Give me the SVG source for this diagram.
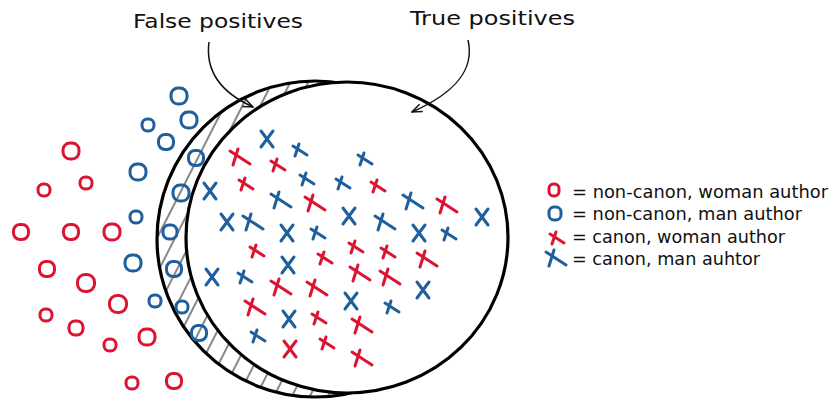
<svg xmlns="http://www.w3.org/2000/svg" xmlns:xlink="http://www.w3.org/1999/xlink" width="832" height="403" viewBox="0 0 832 403">
<style>
  .txt { font-family: "DejaVu Sans", "Open Sans", sans-serif; fill: #111; }
  .title { font-size: 20px; }
  .leg { font-size: 17px; }
  .set { stroke: #000; stroke-width: 3.2; }
  .red { stroke: #dc1432; fill: none; stroke-width: 3; stroke-linecap: round; stroke-linejoin: round; }
  .blue { stroke: #1f5f9b; fill: none; stroke-width: 3; stroke-linecap: round; stroke-linejoin: round; }
  .arrow { fill: none; stroke: #111; stroke-width: 1.5; marker-end: url(#head); }
</style>
<defs>
  <pattern id="hatch" patternUnits="userSpaceOnUse" width="16" height="16" patternTransform="rotate(27)">
    <rect width="16" height="16" fill="#fff"/>
    <line x1="8" y1="-1" x2="8" y2="17" stroke="#7a7a7a" stroke-width="1.8"/>
  </pattern>
  <marker id="head" viewBox="0 0 12 10" refX="11" refY="5" markerWidth="12" markerHeight="10" markerUnits="userSpaceOnUse" orient="auto">
    <path d="M1,1 L11,5 L1,9" fill="none" stroke="#111" stroke-width="1.5" stroke-linejoin="miter"/>
  </marker>
  <path id="px" d="M-6,-8 L6,8 M6,-8 L-6,8"/>
  <path id="tx" d="M-10,-6 L10,7 M-2,-8 L-7,8"/>
  <path id="txs" d="M-7,-4 L7,5 M-1,-6 L-5,6"/>
</defs>
<rect width="832" height="403" fill="#fff"/>

<g id="set-predicted">
  <circle cx="315" cy="239" r="158" fill="url(#hatch)" class="set"/>
</g>
<g id="set-canon">
  <ellipse cx="347" cy="237.5" rx="161" ry="155.5" fill="#fff" class="set" stroke-width="3.6"/>
</g>

<g id="noncanon-woman">
  <rect class="red" x="63" y="143" width="16" height="16" rx="7"/>
  <rect class="red" x="38" y="184" width="12" height="12" rx="5.5"/>
  <rect class="red" x="80" y="177" width="12" height="12" rx="5.5"/>
  <rect class="red" x="13.5" y="224.5" width="15" height="15" rx="6.5"/>
  <rect class="red" x="63.5" y="224.5" width="15" height="15" rx="6.5"/>
  <rect class="red" x="104" y="224" width="16" height="16" rx="7"/>
  <rect class="red" x="39.5" y="261.5" width="15" height="15" rx="6.5"/>
  <rect class="red" x="77.5" y="274.5" width="17" height="17" rx="7.5"/>
  <rect class="red" x="109.5" y="295.5" width="17" height="17" rx="7.5"/>
  <rect class="red" x="40" y="309" width="12" height="12" rx="5.5"/>
  <rect class="red" x="69" y="321" width="14" height="14" rx="6"/>
  <rect class="red" x="104" y="339" width="12" height="12" rx="5.5"/>
  <rect class="red" x="139" y="329" width="16" height="16" rx="7"/>
  <rect class="red" x="126" y="377" width="12" height="12" rx="5.5"/>
  <rect class="red" x="166.5" y="373.5" width="15" height="15" rx="6.5"/>
</g>

<g id="noncanon-man">
  <rect class="blue" x="171" y="88" width="16" height="16" rx="7"/>
  <rect class="blue" x="142" y="119" width="12" height="12" rx="5.5"/>
  <rect class="blue" x="181" y="112" width="16" height="16" rx="7"/>
  <rect class="blue" x="158.5" y="134.5" width="15" height="15" rx="6.5"/>
  <rect class="blue" x="188.5" y="150.5" width="15" height="15" rx="6.5"/>
  <rect class="blue" x="130" y="164" width="16" height="16" rx="7"/>
  <rect class="blue" x="173" y="185" width="16" height="16" rx="7"/>
  <rect class="blue" x="130" y="211" width="12" height="12" rx="5.5"/>
  <rect class="blue" x="163" y="225" width="14" height="14" rx="6"/>
  <rect class="blue" x="125" y="255" width="16" height="16" rx="7"/>
  <rect class="blue" x="166.5" y="261.5" width="15" height="15" rx="6.5"/>
  <rect class="blue" x="149" y="295" width="12" height="12" rx="5.5"/>
  <rect class="blue" x="176" y="301" width="12" height="12" rx="5.5"/>
  <rect class="blue" x="191.5" y="325.5" width="15" height="15" rx="6.5"/>
</g>

<g id="canon-woman">
  <use href="#tx" class="red" transform="translate(240,157)"/>
  <use href="#txs" class="red" transform="translate(278,165)"/>
  <use href="#txs" class="red" transform="translate(246,184)"/>
  <use href="#txs" class="red" transform="translate(378,186)"/>
  <use href="#tx" class="red" transform="translate(315,203)"/>
  <use href="#tx" class="red" transform="translate(447,205)"/>
  <use href="#txs" class="red" transform="translate(257,251)"/>
  <use href="#txs" class="red" transform="translate(356,247)"/>
  <use href="#txs" class="red" transform="translate(388,252)"/>
  <use href="#txs" class="red" transform="translate(325,258)"/>
  <use href="#tx" class="red" transform="translate(427,259)"/>
  <use href="#tx" class="red" transform="translate(281,287)"/>
  <use href="#tx" class="red" transform="translate(317,288)"/>
  <use href="#tx" class="red" transform="translate(360,273)"/>
  <use href="#tx" class="red" transform="translate(390,277)"/>
  <use href="#tx" class="red" transform="translate(255,307)"/>
  <use href="#txs" class="red" transform="translate(319,318)"/>
  <use href="#tx" class="red" transform="translate(362,325)"/>
  <use href="#px" class="red" transform="translate(290,349)"/>
  <use href="#txs" class="red" transform="translate(327,343)"/>
  <use href="#tx" class="red" transform="translate(362,358)"/>
</g>

<g id="canon-man">
  <use href="#px" class="blue" transform="translate(267,139)"/>
  <use href="#txs" class="blue" transform="translate(300,150)"/>
  <use href="#txs" class="blue" transform="translate(365,159)"/>
  <use href="#txs" class="blue" transform="translate(307,179)"/>
  <use href="#txs" class="blue" transform="translate(343,183)"/>
  <use href="#px" class="blue" transform="translate(210,191)"/>
  <use href="#tx" class="blue" transform="translate(281,200)"/>
  <use href="#tx" class="blue" transform="translate(413,201)"/>
  <use href="#px" class="blue" transform="translate(482,217)"/>
  <use href="#px" class="blue" transform="translate(227,222)"/>
  <use href="#tx" class="blue" transform="translate(253,222)"/>
  <use href="#px" class="blue" transform="translate(349,216)"/>
  <use href="#tx" class="blue" transform="translate(385,222)"/>
  <use href="#px" class="blue" transform="translate(287,233)"/>
  <use href="#txs" class="blue" transform="translate(318,233)"/>
  <use href="#px" class="blue" transform="translate(419,233)"/>
  <use href="#txs" class="blue" transform="translate(449,234)"/>
  <use href="#px" class="blue" transform="translate(288,265)"/>
  <use href="#px" class="blue" transform="translate(212,277)"/>
  <use href="#txs" class="blue" transform="translate(245,277)"/>
  <use href="#px" class="blue" transform="translate(423,290)"/>
  <use href="#px" class="blue" transform="translate(351,301)"/>
  <use href="#txs" class="blue" transform="translate(392,307)"/>
  <use href="#px" class="blue" transform="translate(289,319)"/>
  <use href="#txs" class="blue" transform="translate(258,336)"/>
</g>

<g id="label-false-positives">
  <text class="txt title" x="133" y="28" textLength="170" lengthAdjust="spacingAndGlyphs">False positives</text>
</g>
<g id="label-true-positives">
  <text class="txt title" x="410" y="25" textLength="165" lengthAdjust="spacingAndGlyphs">True positives</text>
</g>

<g id="connectors">
  <path class="arrow" d="M209,42 C205,72 222,93 253,107"/>
  <path class="arrow" d="M468,40 C475,70 455,93 412,112"/>
</g>

<g id="legend">
  <g id="legend-noncanon-woman">
    <rect class="red" x="549" y="184" width="10" height="12" rx="4.5"/>
    <text class="txt leg" x="572" y="198" textLength="256" lengthAdjust="spacingAndGlyphs">= non-canon, woman author</text>
  </g>
  <g id="legend-noncanon-man">
    <rect class="blue" x="549" y="207" width="12" height="13" rx="5"/>
    <text class="txt leg" x="572" y="220" textLength="230" lengthAdjust="spacingAndGlyphs">= non-canon, man author</text>
  </g>
  <g id="legend-canon-woman">
    <use href="#txs" class="red" transform="translate(557,238)"/>
    <text class="txt leg" x="572" y="243" textLength="213" lengthAdjust="spacingAndGlyphs">= canon, woman author</text>
  </g>
  <g id="legend-canon-man">
    <use href="#tx" class="blue" transform="translate(556,258)"/>
    <text class="txt leg" x="572" y="265" textLength="188" lengthAdjust="spacingAndGlyphs">= canon, man auhtor</text>
  </g>
</g>
</svg>
